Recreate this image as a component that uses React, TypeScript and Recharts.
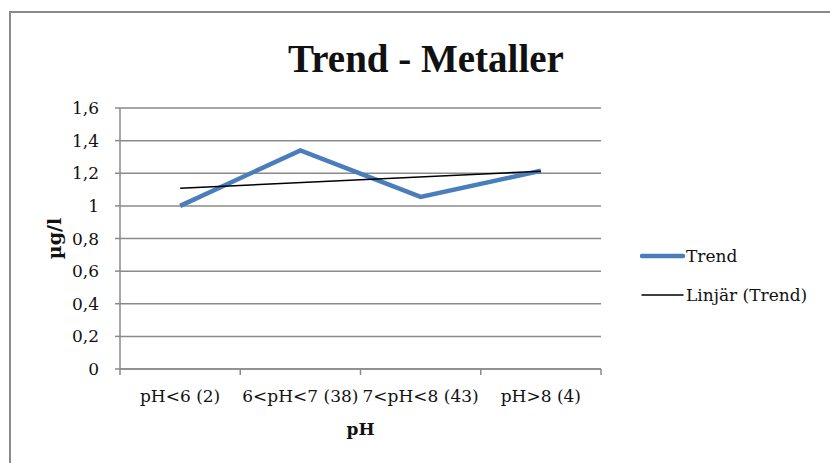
import React from "react";
import { ComposedChart, Line, XAxis, YAxis, CartesianGrid, Legend } from "recharts";

const categories = ["pH<6 (2)", "6<pH<7 (38)", "7<pH<8 (43)", "pH>8 (4)"];
const trendValues = [1.0, 1.34, 1.055, 1.215];
// linear fit, drawn between first and last category
const linearFit = [1.108, null, null, 1.212];
const yTicks = [0, 0.2, 0.4, 0.6, 0.8, 1, 1.2, 1.4, 1.6];
const legendOrder = ["Trend", "Linjär (Trend)"];

const W = 830;
const H = 463;
const MARGIN = { top: 108, right: 229, bottom: 0, left: 0 };
const Y_AXIS_W = 120;
const X_AXIS_H = 94;
const X_TICK_SIZE = 6;
const X_TICK_MARGIN = 15;
const PLOT_W = W - MARGIN.left - MARGIN.right - Y_AXIS_W;
const HALF_BAND = PLOT_W / categories.length / 2;

const GRID = "#8a8a8a";
const BLUE = "#4a7ebb";
const FONT = "'DejaVu Serif', serif";

const data = categories.map((c, i) => ({
  name: c,
  trend: trendValues[i],
  fit: linearFit[i],
}));

const fmt = (v: number) => String(+v.toFixed(1)).replace(".", ",");

function XTick(props: any) {
  const { x, y, payload, index } = props;
  const top = y - X_TICK_MARGIN - X_TICK_SIZE;
  const last = index === categories.length - 1;
  return (
    <g>
      <line x1={x - HALF_BAND} x2={x - HALF_BAND} y1={top} y2={top + X_TICK_SIZE} stroke={GRID} strokeWidth={1.5} />
      {last && (
        <line x1={x + HALF_BAND} x2={x + HALF_BAND} y1={top} y2={top + X_TICK_SIZE} stroke={GRID} strokeWidth={1.5} />
      )}
      <text x={x} y={y} dy="0.71em" textAnchor="middle" fontSize={17} fontFamily={FONT} fill="#111">
        {payload.value}
      </text>
    </g>
  );
}

function YLabel(props: any) {
  const { viewBox } = props;
  const cx = 54;
  const cy = viewBox.y + viewBox.height / 2;
  return (
    <text
      transform={`translate(${cx}, ${cy}) rotate(-90)`}
      textAnchor="middle"
      dominantBaseline="central"
      fontSize={19}
      fontWeight="bold"
      fontFamily={FONT}
      fill="#111"
    >
      µg/l
    </text>
  );
}

function XLabel(props: any) {
  const { viewBox } = props;
  return (
    <text
      x={viewBox.x + viewBox.width / 2}
      y={435}
      textAnchor="middle"
      fontSize={17}
      fontWeight="bold"
      fontFamily={FONT}
      fill="#111"
    >
      pH
    </text>
  );
}

function LegendBox(props: any) {
  const { payload = [] } = props;
  const items = [...payload].sort(
    (a: any, b: any) => legendOrder.indexOf(a.value) - legendOrder.indexOf(b.value)
  );
  return (
    <div style={{ fontFamily: FONT, fontSize: 17, color: "#111" }}>
      {items.map((p: any) => (
        <div key={p.value} style={{ display: "flex", alignItems: "center", height: 39 }}>
          <svg width={46} height={10} style={{ display: "block" }}>
            <line
              x1={2}
              x2={43}
              y1={5}
              y2={5}
              stroke={p.color}
              strokeWidth={p.payload?.strokeWidth ?? 2}
              strokeLinecap="round"
            />
          </svg>
          <span style={{ whiteSpace: "nowrap" }}>{p.value}</span>
        </div>
      ))}
    </div>
  );
}

export default function App() {
  return (
    <div style={{ position: "absolute", left: 0, top: 0, width: W, height: H, background: "#fff", overflow: "hidden" }}>
      <div
        style={{
          position: "absolute",
          left: 9,
          top: 11,
          width: 900,
          height: 600,
          borderLeft: `2px solid ${GRID}`,
          borderTop: `2px solid ${GRID}`,
        }}
      />
      <div
        style={{
          position: "absolute",
          left: 226,
          top: 39,
          width: 400,
          textAlign: "center",
          fontFamily: "'Liberation Serif', serif",
          fontWeight: "bold",
          fontSize: 39,
          lineHeight: "39px",
          color: "#111",
        }}
      >
        Trend - Metaller
      </div>
      <div style={{ position: "absolute", left: 0, top: 0 }}>
        <ComposedChart width={W} height={H} data={data} margin={MARGIN}>
          <CartesianGrid vertical={false} stroke={GRID} strokeWidth={1.5} />
          <XAxis
            dataKey="name"
            height={X_AXIS_H}
            interval={0}
            padding={{ left: HALF_BAND, right: HALF_BAND }}
            axisLine={{ stroke: GRID, strokeWidth: 1.5 }}
            tickLine={false}
            tickSize={X_TICK_SIZE}
            tickMargin={X_TICK_MARGIN}
            tick={<XTick />}
            label={<XLabel />}
          />
          <YAxis
            width={Y_AXIS_W}
            domain={[0, 1.6]}
            ticks={yTicks}
            tickFormatter={fmt}
            axisLine={{ stroke: GRID, strokeWidth: 1.5 }}
            tickLine={{ stroke: GRID, strokeWidth: 1.5 }}
            tickSize={5}
            tickMargin={16}
            tick={{ fontSize: 17, fontFamily: FONT, fill: "#111" }}
            label={<YLabel />}
          />
          <Legend
            layout="vertical"
            align="center"
            verticalAlign="middle"
            content={<LegendBox />}
            wrapperStyle={{ left: 640, top: 236.5, width: 190 }}
          />
          <Line
            type="linear"
            dataKey="trend"
            name="Trend"
            stroke={BLUE}
            strokeWidth={4.5}
            dot={false}
            activeDot={false}
            isAnimationActive={false}
          />
          <Line
            type="linear"
            dataKey="fit"
            name="Linjär (Trend)"
            stroke="#000"
            strokeWidth={1.5}
            dot={false}
            activeDot={false}
            connectNulls
            isAnimationActive={false}
          />
        </ComposedChart>
      </div>
    </div>
  );
}
